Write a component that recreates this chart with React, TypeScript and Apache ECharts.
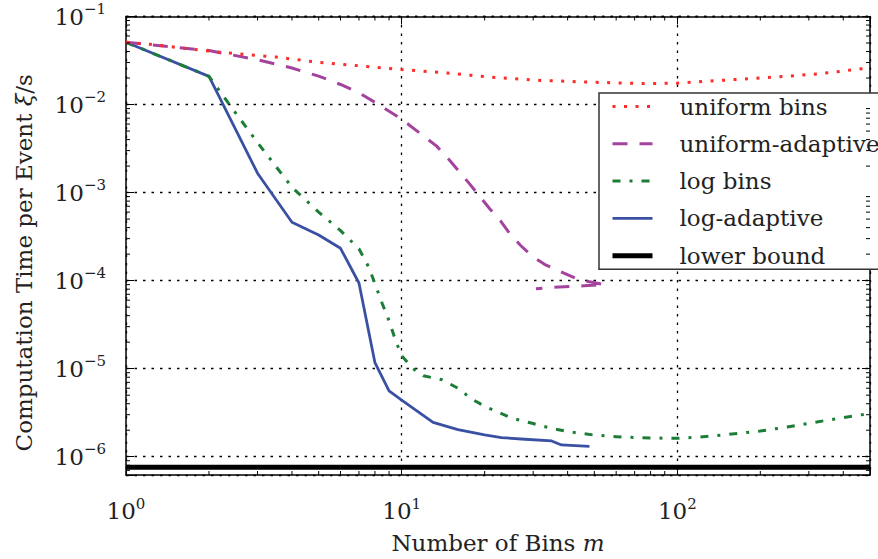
import React, { useEffect, useRef } from 'react';
import * as echarts from 'echarts';

const FONT = 'DejaVu Serif';
const TEXT = '#222';

const X_MIN = 1;
const X_MAX = 500;
const Y_MIN = 6.2e-7;
const Y_MAX = 0.1;

const SERIES_NAMES = ['uniform bins', 'uniform-adaptive', 'log bins', 'log-adaptive', 'lower bound'];

const RED_X = [1, 1.2, 2, 2.5, 3.5, 5, 7, 9.3, 14.7, 20.6, 32, 50, 78, 100, 160, 230, 330, 467, 500];
const RED_Y = [0.051, 0.0486, 0.0405, 0.0378, 0.0347, 0.0301, 0.0276, 0.0254, 0.0228, 0.0206, 0.0188, 0.0179, 0.0173, 0.0175, 0.0192, 0.0206, 0.0224, 0.0255, 0.0262];

const PURPLE_X = [1, 2, 3, 4, 5, 6, 7, 8, 10, 13.4, 15, 17.7, 20.9, 22.8, 24.7, 26.9, 29.8, 33.1, 37.6, 42.6, 48, 54.5, 46, 40.8, 34.3, 30.7];
const PURPLE_Y = [0.051, 0.041, 0.0323, 0.026, 0.021, 0.0169, 0.0136, 0.0106, 6.8e-3, 3.37e-3, 2.29e-3, 1.24e-3, 6.5e-4, 4.8e-4, 3.4e-4, 2.54e-4, 1.89e-4, 1.52e-4, 1.27e-4, 1.07e-4, 9.7e-5, 9.0e-5, 8.75e-5, 8.6e-5, 8.35e-5, 8.07e-5];

const GREEN_X = [1, 2, 2.5, 3, 4, 5, 6, 7, 7.6, 8, 8.5, 9, 9.5, 10, 11, 12, 14, 16, 18, 20, 25, 30, 35, 40, 50, 60, 70, 80, 100, 120, 150, 200, 250, 300, 400, 500];
const GREEN_Y = [0.051, 0.0209, 8.0e-3, 3.7e-3, 1.15e-3, 6.0e-4, 3.7e-4, 2.3e-4, 1.42e-4, 9.2e-5, 5.5e-5, 3.5e-5, 2.1e-5, 1.4e-5, 1.0e-5, 8.3e-6, 7.5e-6, 6.0e-6, 4.5e-6, 3.75e-6, 2.75e-6, 2.38e-6, 2.1e-6, 1.93e-6, 1.76e-6, 1.69e-6, 1.65e-6, 1.63e-6, 1.62e-6, 1.67e-6, 1.78e-6, 1.96e-6, 2.17e-6, 2.4e-6, 2.78e-6, 3.1e-6];

const BLUE_X = [1, 2, 3, 4, 5, 6, 7, 8, 9, 10, 13, 16, 20, 23, 28, 35, 38, 48];
const BLUE_Y = [0.051, 0.0209, 0.00166, 4.6e-4, 3.3e-4, 2.33e-4, 9.4e-5, 1.17e-5, 5.6e-6, 4.4e-6, 2.46e-6, 2.03e-6, 1.77e-6, 1.65e-6, 1.58e-6, 1.51e-6, 1.36e-6, 1.31e-6];

const BOUND_X = [1, 500];
const BOUND_Y = [7.6e-7, 7.6e-7];

const X_MINOR = [2, 3, 4, 5, 6, 7, 8, 9, 20, 30, 40, 50, 60, 70, 80, 90, 200, 300, 400];
const Y_MINOR = [
  7e-7, 8e-7, 9e-7,
  2e-6, 3e-6, 4e-6, 5e-6, 6e-6, 7e-6, 8e-6, 9e-6,
  2e-5, 3e-5, 4e-5, 5e-5, 6e-5, 7e-5, 8e-5, 9e-5,
  2e-4, 3e-4, 4e-4, 5e-4, 6e-4, 7e-4, 8e-4, 9e-4,
  2e-3, 3e-3, 4e-3, 5e-3, 6e-3, 7e-3, 8e-3, 9e-3,
  2e-2, 3e-2, 4e-2, 5e-2, 6e-2, 7e-2, 8e-2, 9e-2,
];

const COLORS = ['#ff2a2a', '#a4439e', '#1c7d36', '#3a51a3', '#000000'];
const DASHES: any[] = [[3, 8.5], [15, 12], [8, 9, 3, 9], 'solid', 'solid'];
const WIDTHS = [3, 3, 3, 2.8, 5];

const zip = (xs: number[], ys: number[]) => xs.map((x, i) => [x, ys[i]]);

const powLabel = (v: number) => {
  const e = Math.log10(v);
  const r = Math.round(e);
  if (Math.abs(e - r) > 1e-6) return '';
  const s = r < 0 ? '\u2212' + String(-r) : String(r);
  return '{b|10}{s|' + s + '}';
};

const labelRich = {
  b: { fontFamily: FONT, fontSize: 23, lineHeight: 30, color: TEXT },
  s: { fontFamily: FONT, fontSize: 15, lineHeight: 15, verticalAlign: 'top', color: TEXT },
};

const gridLine = { show: true, lineStyle: { color: '#000', type: [2.5, 6], width: 1.3 } };

export default function App() {
  const ref = useRef<HTMLDivElement>(null);
  useEffect(() => {
    if (!ref.current) return;
    const chart = echarts.init(ref.current, undefined, { renderer: 'svg' });
    const datasets = [zip(RED_X, RED_Y), zip(PURPLE_X, PURPLE_Y), zip(GREEN_X, GREEN_Y), zip(BLUE_X, BLUE_Y), zip(BOUND_X, BOUND_Y)];
    const lineSeries = SERIES_NAMES.map((name, i) => ({
      name,
      type: 'line',
      data: datasets[i],
      symbol: 'none',
      showSymbol: false,
      silent: true,
      z: i === 4 ? 3 : 4 + (4 - i),
      lineStyle: { color: COLORS[i], width: WIDTHS[i], type: DASHES[i], cap: 'butt', join: 'round' },
      itemStyle: { color: COLORS[i] },
    }));
    const tickStyle = { stroke: '#000', lineWidth: 1 };
    const option: any = {
      animation: false,
      grid: { left: 126, right: 8, top: 16.5, bottom: 82, containLabel: false },
      xAxis: [
        {
          type: 'log', logBase: 10, min: X_MIN, max: X_MAX, position: 'bottom',
          axisLine: { show: true, onZero: false, lineStyle: { color: '#000', width: 1.5 } },
          axisTick: { show: true, inside: true, length: 8, lineStyle: { color: '#000', width: 1 } },
          axisLabel: { margin: 21, formatter: powLabel, rich: labelRich },
          splitLine: gridLine,
          name: 'Number of Bins {i|m}', nameLocation: 'middle', nameGap: 56,
          nameTextStyle: { fontFamily: FONT, fontSize: 23, color: TEXT, lineHeight: 23,
            rich: { i: { fontFamily: FONT, fontSize: 23, fontStyle: 'italic', color: TEXT } } },
        },
        {
          type: 'log', logBase: 10, min: X_MIN, max: X_MAX, position: 'top',
          axisLine: { show: true, onZero: false, lineStyle: { color: '#000', width: 1.5 } },
          axisTick: { show: true, inside: true, length: 8, lineStyle: { color: '#000', width: 1 } },
          axisLabel: { show: false },
          splitLine: { show: false },
        },
      ],
      yAxis: [
        {
          type: 'log', logBase: 10, min: Y_MIN, max: Y_MAX, position: 'left',
          axisLine: { show: true, onZero: false, lineStyle: { color: '#000', width: 1.5 } },
          axisTick: { show: true, inside: true, length: 8, lineStyle: { color: '#000', width: 1 } },
          axisLabel: { margin: 20, formatter: powLabel, rich: labelRich },
          splitLine: gridLine,
          name: 'Computation Time per Event {i|\u03be}/s', nameLocation: 'middle', nameGap: 90, nameRotate: 90,
          nameTextStyle: { fontFamily: FONT, fontSize: 23, color: TEXT, lineHeight: 24, padding: [0, 34, 0, 0],
            rich: { i: { fontFamily: FONT, fontSize: 23, fontStyle: 'italic', color: TEXT } } },
        },
        {
          type: 'log', logBase: 10, min: Y_MIN, max: Y_MAX, position: 'right',
          axisLine: { show: true, onZero: false, lineStyle: { color: '#000', width: 1.5 } },
          axisTick: { show: true, inside: true, length: 8, lineStyle: { color: '#000', width: 1 } },
          axisLabel: { show: false },
          splitLine: { show: false },
        },
      ],
      legend: {
        data: SERIES_NAMES,
        orient: 'vertical',
        left: 599,
        top: 93,
        itemWidth: 40,
        itemHeight: 22,
        itemGap: 14.3,
        padding: [2, 0, 2, 11],
        borderColor: '#333',
        borderWidth: 1.5,
        borderRadius: 0,
        backgroundColor: '#fff',
        selectedMode: false,
        itemStyle: { opacity: 0 },
        lineStyle: { width: 'inherit' },
        formatter: (n: string) => '{t|' + n + '}',
        textStyle: {
          fontFamily: FONT, fontSize: 23, color: TEXT,
          rich: { t: { fontFamily: FONT, fontSize: 23, lineHeight: 22, color: TEXT, padding: [0, 0, 0, 22] } },
        },
      },
      series: [
        ...lineSeries,
        {
          type: 'custom', silent: true, clip: false, z: 10,
          xAxisIndex: 0, yAxisIndex: 0,
          data: X_MINOR.map((v) => [v, Y_MIN]),
          renderItem: (_p: any, api: any) => {
            const v = api.value(0);
            const b = api.coord([v, Y_MIN]);
            const t = api.coord([v, Y_MAX]);
            return {
              type: 'group',
              children: [
                { type: 'line', shape: { x1: b[0], y1: b[1], x2: b[0], y2: b[1] - 4 }, style: tickStyle },
                { type: 'line', shape: { x1: t[0], y1: t[1], x2: t[0], y2: t[1] + 4 }, style: tickStyle },
              ],
            };
          },
        },
        {
          type: 'custom', silent: true, clip: false, z: 10,
          xAxisIndex: 0, yAxisIndex: 0,
          data: Y_MINOR.map((v) => [X_MIN, v]),
          renderItem: (_p: any, api: any) => {
            const v = api.value(1);
            const l = api.coord([X_MIN, v]);
            const r = api.coord([X_MAX, v]);
            return {
              type: 'group',
              children: [
                { type: 'line', shape: { x1: l[0], y1: l[1], x2: l[0] + 4, y2: l[1] }, style: tickStyle },
                { type: 'line', shape: { x1: r[0], y1: r[1], x2: r[0] - 4, y2: r[1] }, style: tickStyle },
              ],
            };
          },
        },
      ],
    };
    chart.setOption(option);
    return () => chart.dispose();
  }, []);
  return <div ref={ref} style={{ position: 'fixed', left: 0, top: 0, width: 878, height: 559, background: '#fff' }} />;
}
